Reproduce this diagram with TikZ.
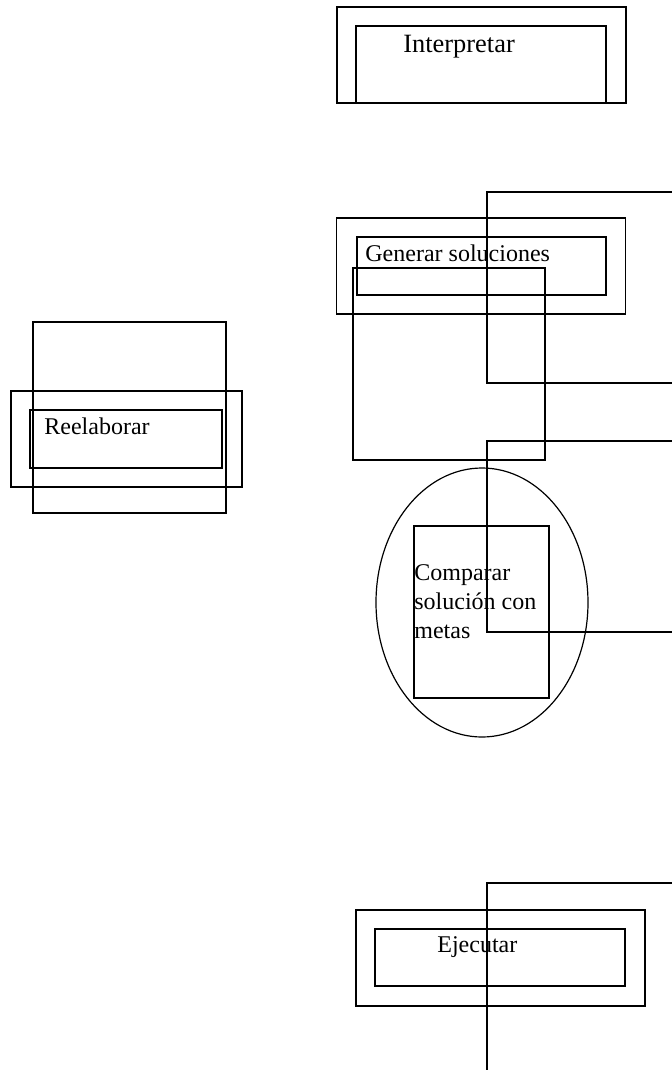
\documentclass[tikz,border=0pt]{standalone}
\usepackage{fontspec}
\setmainfont{Liberation Serif}
\usepackage{tikz}
\usetikzlibrary{shapes.geometric,arrows}
\tikzstyle{line} = [draw, line width=0.6pt]
\tikzstyle{marco} = [rectangle, draw, line width=0.6pt, inner sep=0pt]
\tikzstyle{ovalo} = [ellipse, draw, line width=0.6pt, inner sep=0pt]
\tikzstyle{texto} = [inner sep=0pt, align=left, font=\fontsize{12}{14.6}\selectfont]

\begin{document}
\begin{tikzpicture}[x=0.5pt, y=-0.5pt]
				\useasboundingbox (0,0) rectangle (672,1073);
				% Place nodes
				\node [marco, minimum width=144.5pt, minimum height=48pt] (interp) at (481.5,55) {};
				\node [marco, minimum width=125pt, minimum height=38.5pt] (interpin) at (481,64.5) {};
				\node [texto, anchor=base west, font=\fontsize{13.2}{15}\selectfont] (interptxt) at (403,52) {Interpretar};
				\node [marco, minimum width=144.5pt, minimum height=48pt] (gen) at (481,266) {};
				\node [marco, minimum width=124.5pt, minimum height=29pt] (genin) at (481.5,266) {};
				\node [texto, anchor=base west] (gentxt) at (365,261) {Generar soluciones};
				\node [marco, minimum width=96pt, minimum height=96pt] (genbox) at (449,364) {};
				\node [marco, minimum width=96.5pt, minimum height=95.5pt] (reelbox) at (129.5,417.5) {};
				\node [marco, minimum width=115.5pt, minimum height=48pt] (reel) at (126.5,439) {};
				\node [marco, minimum width=96pt, minimum height=29pt] (reelin) at (126,439) {};
				\node [texto, anchor=base west] (reeltxt) at (44,434) {Reelaborar};
				\node [ovalo, minimum width=106pt, minimum height=134.5pt] (comp) at (482,602.5) {};
				\node [marco, minimum width=67.5pt, minimum height=86pt] (compin) at (481.5,612) {};
				\node [texto, anchor=north west] (comptxt) at (414,564) {Comparar\\solución con\\metas};
				\node [marco, minimum width=144.5pt, minimum height=48pt] (ejec) at (500.5,958) {};
				\node [marco, minimum width=125pt, minimum height=28.5pt] (ejecin) at (500,957.5) {};
				\node [texto, anchor=base west] (ejectxt) at (437,952) {Ejecutar};
				\coordinate (a1) at (672,192);
				\coordinate (a2) at (672,383);
				\coordinate (b1) at (672,441);
				\coordinate (b2) at (672,632);
				\coordinate (c1) at (672,883);
				\coordinate (c2) at (487,1070);
				% Draw edges
				\path [line] (a1) -- (487,192) |- (a2);
				\path [line] (b1) -- (487,441) |- (b2);
				\path [line] (c1) -| (c2);
\end{tikzpicture}
\end{document}
